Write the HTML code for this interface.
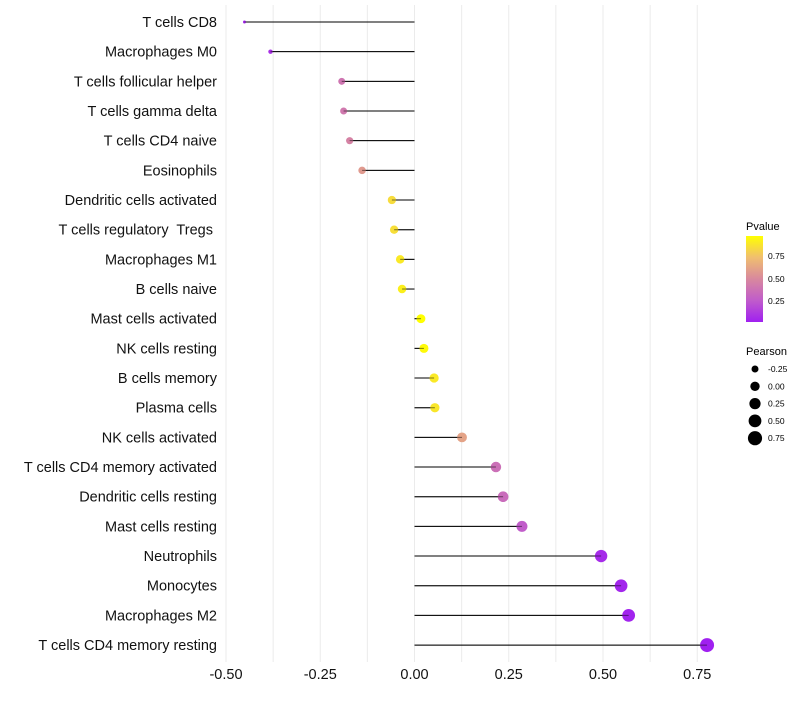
<!DOCTYPE html>
<html><head><meta charset="utf-8"><style>
body{margin:0;background:#fff;font-family:"Liberation Sans",sans-serif;}
svg text{font-family:"Liberation Sans",sans-serif;white-space:pre;}
</style></head><body>
<svg id="chart" width="800" height="700" xmlns="http://www.w3.org/2000/svg">
<g id="grid"></g>
<g id="marks"></g>
<g id="ylabels"></g>
<g id="xlabels"></g>
<g id="legend">
<defs><linearGradient id="pg" x1="0" y1="1" x2="0" y2="0">
<stop offset="0" stop-color="#A020F0"/><stop offset="0.25" stop-color="#C05CCB"/><stop offset="0.5" stop-color="#D8889E"/><stop offset="0.75" stop-color="#F0BE70"/><stop offset="1" stop-color="#FFFF00"/></linearGradient></defs>
<text x="746" y="230" font-size="11">Pvalue</text>
<rect x="746" y="236" width="17" height="86" fill="url(#pg)"/>
<text x="768" y="259" font-size="8.5">0.75</text>
<text x="768" y="282" font-size="8.5">0.50</text>
<text x="768" y="304" font-size="8.5">0.25</text>
<text x="746" y="355" font-size="11">Pearson</text>
</g>
</svg>
<script>
const categories=["T cells CD8","Macrophages M0","T cells follicular helper","T cells gamma delta","T cells CD4 naive","Eosinophils","Dendritic cells activated","T cells regulatory  Tregs ","Macrophages M1","B cells naive","Mast cells activated","NK cells resting","B cells memory","Plasma cells","NK cells activated","T cells CD4 memory activated","Dendritic cells resting","Mast cells resting","Neutrophils","Monocytes","Macrophages M2","T cells CD4 memory resting"];
const pearson=[-0.451,-0.382,-0.193,-0.188,-0.172,-0.139,-0.060,-0.054,-0.038,-0.033,0.017,0.025,0.052,0.054,0.126,0.216,0.235,0.285,0.495,0.548,0.568,0.776];
const pvalue=[0.03,0.07,0.38,0.40,0.45,0.56,0.83,0.84,0.88,0.90,0.96,0.94,0.88,0.87,0.60,0.35,0.33,0.25,0.05,0.03,0.02,0.005];
const xTicks=[-0.5,-0.25,0,0.25,0.5,0.75];
const xTickLabels=["-0.50","-0.25","0.00","0.25","0.50","0.75"];
const sizeLegend=[-0.25,0,0.25,0.5,0.75];
const sizeLegendLabels=["-0.25","0.00","0.25","0.50","0.75"];
const NS="http://www.w3.org/2000/svg";
const X=v=>414.5+v*377;
const Y=i=>22+i*29.67;
const pmin=Math.min(...pearson),pmax=Math.max(...pearson);
const R=v=>Math.sqrt(2.25+Math.max(0,(v-pmin)/(pmax-pmin))*46.75);
const stops=[[0,[160,32,240]],[0.25,[192,92,203]],[0.5,[216,136,158]],[0.75,[240,190,112]],[1,[255,255,0]]];
function col(p){const t=Math.max(0,Math.min(1,(p-0.005)/0.955));for(let k=1;k<stops.length;k++){if(t<=stops[k][0]){const a=stops[k-1],b=stops[k],f=(t-a[0])/(b[0]-a[0]);return "rgb("+a[1].map((c,j)=>Math.round(c+(b[1][j]-c)*f)).join(",")+")";}}return "rgb(255,255,0)";}
function mk(tag,attrs,parent){const e=document.createElementNS(NS,tag);for(const k in attrs)e.setAttribute(k,attrs[k]);parent.appendChild(e);return e;}
const grid=document.getElementById('grid'),marks=document.getElementById('marks'),yl=document.getElementById('ylabels'),xl=document.getElementById('xlabels'),lg=document.getElementById('legend');
for(let v=-0.5;v<=0.76;v+=0.125){const l=mk('line',{x1:X(v),x2:X(v),y1:5,y2:662,stroke:'#ebebeb','stroke-width':1},grid);

}
xTicks.forEach((v,i)=>{const t=mk('text',{x:X(v),y:679,'font-size':14.5,'text-anchor':'middle',fill:'#111'},xl);t.textContent=xTickLabels[i];

});
categories.forEach((c,i)=>{const y=Y(i);
const t=mk('text',{x:217,y:y+5,'font-size':14.5,'text-anchor':'end',fill:'#111'},yl);t.textContent=c;


const l=mk('line',{x1:X(0),x2:X(pearson[i]),y1:y,y2:y,stroke:'#000','stroke-width':1},marks);


const d=mk('circle',{cx:X(pearson[i]),cy:y,r:R(pearson[i]),fill:col(pvalue[i])},marks);


const l2=mk('line',{x1:X(0),x2:X(pearson[i]),y1:y,y2:y,stroke:'#000','stroke-width':1,'stroke-opacity':0.5},marks);

});
sizeLegend.forEach((v,i)=>{const y=369+i*17.3;
const c=mk('circle',{cx:755,cy:y,r:R(v)*0.95+0.5,fill:'#000'},lg);


const t=mk('text',{x:768,y:y+3,'font-size':8.5},lg);t.textContent=sizeLegendLabels[i];

});
</script>
</body></html>
